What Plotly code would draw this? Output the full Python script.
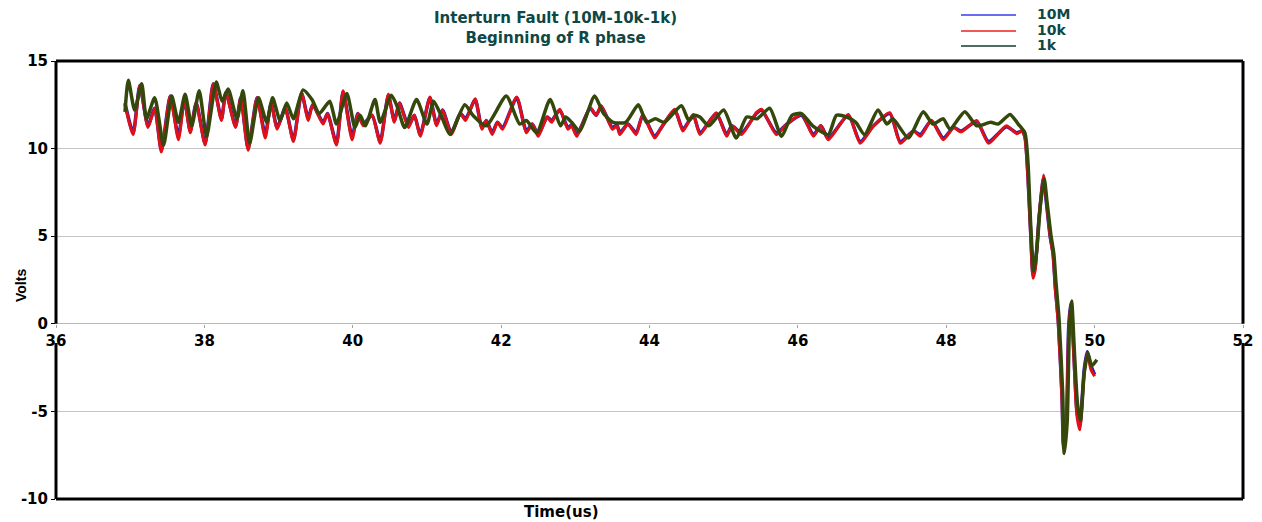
import plotly.graph_objects as go

# ---------------- data ----------------
t_10M = [36.93, 37.04, 37.13, 37.24, 37.33, 37.42, 37.54, 37.65, 37.73, 37.81,
         37.89, 38.01, 38.12, 38.23, 38.29, 38.42, 38.49, 38.59, 38.71, 38.82,
         38.9, 38.98, 39.09, 39.2, 39.31, 39.4, 39.46, 39.6, 39.66, 39.78,
         39.87, 39.99, 40.07, 40.14, 40.26, 40.37, 40.48, 40.56, 40.63, 40.75,
         40.83, 40.91, 41.04, 41.13, 41.21, 41.33, 41.45, 41.52, 41.65, 41.74,
         41.8, 41.88, 41.95, 42.02, 42.21, 42.34, 42.42, 42.5, 42.62, 42.68,
         42.79, 42.9, 42.95, 43.02, 43.2, 43.28, 43.35, 43.5, 43.56, 43.6,
         43.71, 43.82, 43.91, 44.07, 44.16, 44.34, 44.45, 44.59, 44.68, 44.9,
         45.04, 45.11, 45.24, 45.44, 45.51, 45.71, 45.85, 46.05, 46.21, 46.31,
         46.41, 46.68, 46.84, 47.02, 47.24, 47.38, 47.56, 47.65, 47.8, 47.96,
         48.1, 48.2, 48.41, 48.57, 48.81, 48.95, 49.02, 49.06, 49.1, 49.14,
         49.17, 49.2, 49.25, 49.31, 49.35, 49.4, 49.44, 49.47, 49.51, 49.56,
         49.58, 49.62, 49.65, 49.68, 49.72, 49.76, 49.8, 49.86, 49.9, 49.95, 50.0]
v_10M = [12.6, 10.9, 13.6, 11.3, 12.3, 9.9, 13.0, 10.7, 12.8, 11.0,
         12.6, 10.3, 13.7, 11.7, 13.2, 11.3, 12.9, 10.0, 12.9, 10.8,
         12.6, 11.2, 12.3, 10.5, 13.15, 11.75, 12.5, 11.5, 12.0, 10.3,
         13.25, 10.7, 12.0, 11.4, 11.9, 10.4, 13.05, 11.6, 12.6, 11.3,
         11.9, 10.8, 12.9, 11.4, 12.2, 10.9, 12.0, 11.7, 12.8, 11.2,
         11.6, 10.9, 11.5, 11.2, 12.9, 11.0, 11.4, 10.8, 11.8, 11.6,
         12.2, 11.2, 11.35, 10.8, 12.3, 11.9, 12.4, 11.2, 11.35, 10.9,
         11.4, 10.9, 11.9, 10.7, 11.2, 12.2, 11.1, 11.9, 10.9, 12.0,
         10.8, 11.3, 10.9, 12.0, 12.2, 10.9, 11.4, 11.9, 10.8, 11.3,
         10.6, 11.9, 10.4, 11.3, 12.0, 10.4, 11.0, 10.8, 11.6, 10.6,
         11.2, 11.0, 11.55, 10.4, 11.25, 10.9, 11.0, 10.7, 8.5, 5.0,
         2.8, 3.3, 6.0, 8.3, 6.9, 5.0, 4.0, 2.1, 0.2, -4.1,
         -6.9, -5.4, -0.2, 1.2, -1.7, -4.9, -5.8, -2.6, -1.6, -2.4, -2.9]

t_10k = list(t_10M)
v_10k = [12.5, 10.8, 13.6, 11.2, 12.3, 9.8, 13.0, 10.5, 12.8, 10.9,
         12.6, 10.2, 13.7, 11.6, 13.2, 11.2, 12.9, 9.9, 12.9, 10.6,
         12.6, 11.1, 12.3, 10.4, 13.2, 11.6, 12.5, 11.4, 12.0, 10.2,
         13.3, 10.5, 12.0, 11.3, 11.9, 10.3, 13.1, 11.5, 12.6, 11.2,
         11.9, 10.7, 12.95, 11.3, 12.2, 10.8, 12.0, 11.6, 12.85, 11.1,
         11.6, 10.8, 11.5, 11.1, 12.95, 10.9, 11.4, 10.7, 11.8, 11.5,
         12.25, 11.1, 11.3, 10.7, 12.35, 11.9, 12.45, 11.1, 11.3, 10.8,
         11.4, 10.8, 11.95, 10.6, 11.2, 12.25, 11.0, 11.95, 10.8, 12.05,
         10.7, 11.3, 10.8, 12.05, 12.25, 10.8, 11.4, 11.95, 10.7, 11.3,
         10.5, 11.95, 10.3, 11.3, 12.05, 10.3, 11.0, 10.7, 11.6, 10.5,
         11.2, 10.95, 11.6, 10.3, 11.3, 10.85, 11.0, 10.6, 8.4, 4.8,
         2.6, 3.1, 6.1, 8.5, 7.0, 5.0, 3.9, 2.0, 0.0, -4.3,
         -7.1, -5.6, -0.4, 1.1, -1.9, -5.2, -6.05, -2.8, -1.7, -2.6, -3.0]

t_1k = [36.93, 36.975, 37.06, 37.155, 37.22, 37.33, 37.45, 37.56, 37.65, 37.74,
        37.83, 37.93, 38.03, 38.16, 38.24, 38.32, 38.44, 38.52, 38.61, 38.73,
        38.84, 38.92, 39.02, 39.11, 39.2, 39.33, 39.45, 39.55, 39.69, 39.78,
        39.92, 40.03, 40.1, 40.17, 40.3, 40.37, 40.52, 40.6, 40.7, 40.86,
        41.0, 41.09, 41.2, 41.31, 41.51, 41.62, 41.8, 42.07, 42.25, 42.34,
        42.48, 42.66, 42.8, 42.87, 42.95, 43.06, 43.26, 43.38, 43.51, 43.68,
        43.85, 43.96, 44.08, 44.2, 44.43, 44.53, 44.6, 44.68, 44.8, 45.0,
        45.17, 45.31, 45.45, 45.62, 45.78, 45.92, 46.05, 46.2, 46.41, 46.52,
        46.66, 46.78, 46.9, 47.08, 47.2, 47.28, 47.49, 47.69, 47.82, 47.96,
        48.05, 48.25, 48.41, 48.6, 48.7, 48.86, 48.97, 49.06, 49.1, 49.14,
        49.18, 49.22, 49.27, 49.32, 49.36, 49.41, 49.45, 49.48, 49.52, 49.57,
        49.59, 49.63, 49.66, 49.69, 49.73, 49.77, 49.81, 49.86, 49.91, 49.96, 50.03]
v_1k = [12.1, 13.9, 12.2, 13.7, 11.7, 12.9, 10.2, 13.0, 11.5, 13.1,
        11.3, 13.3, 10.7, 13.8, 12.7, 13.4, 11.7, 13.3, 10.3, 12.9,
        11.5, 12.9, 11.6, 12.6, 11.7, 13.35, 12.8, 12.0, 12.7, 11.4,
        13.15, 11.2, 11.9, 11.3, 12.8, 11.5, 13.05, 12.4, 11.2, 12.8,
        11.4, 12.7, 11.8, 10.8, 12.5, 11.9, 11.3, 13.0, 11.4, 11.6,
        10.9, 12.8, 11.3, 11.8, 11.5, 11.0, 13.0, 12.0, 11.5, 11.5,
        12.5, 11.5, 11.7, 11.5, 12.45, 11.6, 11.9, 11.8, 11.3, 12.2,
        10.6, 11.8, 11.7, 12.3, 10.7, 11.9, 12.0, 11.3, 10.8, 11.9,
        11.8, 11.5, 10.8, 12.2, 11.4, 11.7, 10.6, 12.1, 11.4, 11.7,
        11.1, 12.1, 11.3, 11.5, 11.4, 11.95, 11.4, 10.9, 9.3, 5.5,
        3.0, 4.2, 6.8, 8.3, 6.9, 5.1, 4.0, 2.3, 0.3, -4.0,
        -7.4, -5.6, -0.3, 1.3, -1.8, -4.6, -5.5, -2.8, -1.7, -2.4, -2.05]

series_names = ["10M", "10k", "1k"]
series_colors = ["#2222b8", "#e01018", "#34480c"]
legend_line_colors = ["#3a3af0", "#ee2020", "#103c2c"]

x_ticks = [36, 38, 40, 42, 44, 46, 48, 50, 52]
x_tick_labels = ["36", "38", "40", "42", "44", "46", "48", "50", "52"]
y_ticks = [-10, -5, 0, 5, 10, 15]
y_tick_labels = ["-10", "-5", "0", "5", "10", "15"]

title_lines = ["Interturn Fault (10M-10k-1k)", "Beginning of R phase"]
x_title = "Time(us)"
y_title = "Volts"

# ---------------- figure ----------------
W, H = 1262, 522
L, R, T, B = 56, 19, 61, 23
pw, ph = W - L - R, H - T - B

def px(xp):
    return (xp - L) / pw

def py(yp):
    return (H - B - yp) / ph

TEXT = "#0e4846"
BOLD = "DejaVu Sans"

fig = go.Figure()
for t, v, name, col, w in zip([t_10M, t_10k, t_1k], [v_10M, v_10k, v_1k],
                              series_names, series_colors, [3.5, 3, 3.5]):
    fig.add_trace(go.Scatter(x=t, y=v, mode="lines", name=name,
                             line=dict(color=col, width=w, shape="spline", smoothing=0.6),
                             showlegend=False))

y0_frac = (0 - y_ticks[0]) / (y_ticks[-1] - y_ticks[0])

fig.update_layout(
    width=W, height=H,
    margin=dict(l=L, r=R, t=T, b=B, pad=0, autoexpand=False),
    paper_bgcolor="white", plot_bgcolor="white",
    xaxis=dict(range=[x_ticks[0], x_ticks[-1]], tickvals=x_ticks, ticktext=x_tick_labels,
               anchor="free", position=y0_frac, automargin=False,
               showgrid=False, zeroline=False, showline=False,
               ticks="outside", ticklen=3, tickcolor="#a0a0a0",
               tickfont=dict(family=BOLD, size=15, color="black", weight="bold")),
    yaxis=dict(range=[y_ticks[0], y_ticks[-1]], tickvals=y_ticks, ticktext=y_tick_labels,
               automargin=False,
               showgrid=True, gridcolor="#c4c4c4", gridwidth=1,
               zeroline=True, zerolinecolor="#b8b8b8", zerolinewidth=1,
               showline=False, ticks="outside", ticklen=4, tickcolor="black",
               tickfont=dict(family=BOLD, size=15, color="black", weight="bold")),
)

# plot frame (broken where the 36 / 52 labels sit, as in the reference)
frame = dict(color="black", width=3)
gap_bottom = py(343)
shapes = [
    dict(type="line", xref="paper", yref="paper", x0=0, x1=1, y0=1, y1=1, line=frame),
    dict(type="line", xref="paper", yref="paper", x0=0, x1=1, y0=0, y1=0, line=frame),
    dict(type="line", xref="paper", yref="paper", x0=0, x1=0, y0=y0_frac, y1=1, line=frame),
    dict(type="line", xref="paper", yref="paper", x0=0, x1=0, y0=0, y1=gap_bottom, line=frame),
    dict(type="line", xref="paper", yref="paper", x0=1, x1=1, y0=y0_frac, y1=1, line=frame),
    dict(type="line", xref="paper", yref="paper", x0=1, x1=1, y0=0, y1=gap_bottom, line=frame),
]

# manual legend (top right, above the plot frame)
leg_rows = [15, 31, 46]
annotations = []
for name, col, yr in zip(series_names, legend_line_colors, leg_rows):
    shapes.append(dict(type="line", xref="paper", yref="paper",
                       x0=px(961), x1=px(1016), y0=py(yr), y1=py(yr),
                       line=dict(color=col, width=1.5)))
    annotations.append(dict(text=name, xref="paper", yref="paper",
                            x=px(1036), y=py(yr - 1), xanchor="left", yanchor="middle",
                            showarrow=False, borderpad=0,
                            font=dict(family=BOLD, size=14, color=TEXT, weight="bold")))

annotations.append(dict(text="<br>".join(title_lines), xref="paper", yref="paper",
                        x=px(555), y=py(28), xanchor="center", yanchor="middle",
                        showarrow=False, align="center",
                        font=dict(family=BOLD, size=15, color=TEXT, weight="bold")))
annotations.append(dict(text=x_title, xref="paper", yref="paper",
                        x=px(561), y=py(512), xanchor="center", yanchor="middle",
                        showarrow=False,
                        font=dict(family=BOLD, size=15, color="black", weight="bold")))
annotations.append(dict(text=y_title, xref="paper", yref="paper",
                        x=px(21), y=py(286), xanchor="center", yanchor="middle",
                        showarrow=False, textangle=-90,
                        font=dict(family="Liberation Sans", size=14, color="black", weight="bold")))

fig.update_layout(shapes=shapes, annotations=annotations)
fig.write_html("out.html", config={"displayModeBar": False},
               post_script="document.body.style.margin='0';document.body.style.padding='0';"
                           "document.body.style.overflow='hidden';")
